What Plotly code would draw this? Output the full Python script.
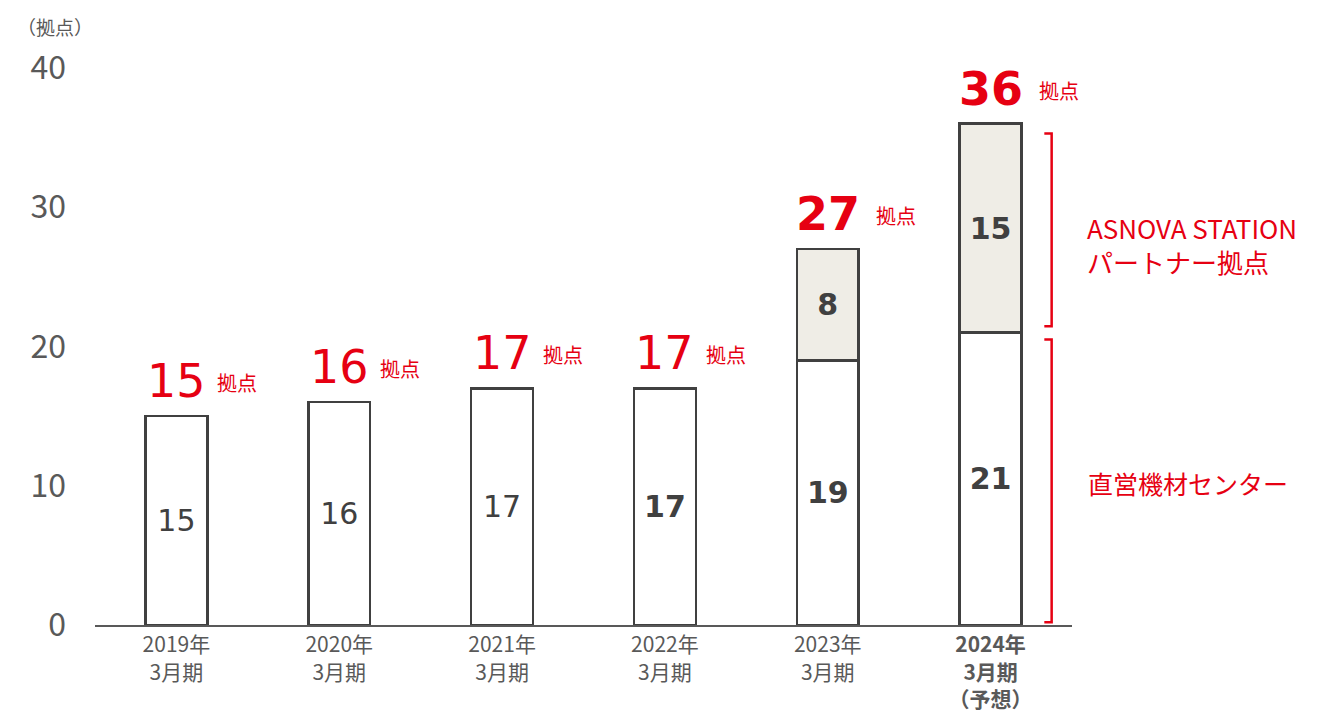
import plotly.graph_objects as go

categories = ["2019年<br>3月期", "2020年<br>3月期", "2021年<br>3月期", "2022年<br>3月期",
              "2023年<br>3月期", "<b>2024年<br>3月期<br>（予想）</b>"]
direct = [15, 16, 17, 17, 19, 21]
partner = [0, 0, 0, 0, 8, 15]
direct_bold = [False, False, False, True, True, True]
total_bold = [False, False, False, False, True, True]
label_direct = "直営機材センター"
label_partner = ["ASNOVA STATION", "パートナー拠点"]
unit = "拠点"
y_ticks = [0, 10, 20, 30, 40]

RED = "#E60012"
GRAY = "#595959"
DARK = "#404040"
NUM_FONT = "DejaVu Sans"
JP_FONT = "Noto Sans CJK JP"

xs = list(range(len(categories)))
totals = [a + b for a, b in zip(direct, partner)]

def fmt(v, b):
    return f"<b>{v}</b>" if b else str(v)

fig = go.Figure()
fig.add_bar(
    x=xs, y=direct, width=0.38,
    marker=dict(color="white", line=dict(color=DARK, width=2.5)),
    text=[fmt(v, b) for v, b in zip(direct, direct_bold)],
    textposition="inside", insidetextanchor="middle", textangle=0,
    textfont=dict(family=NUM_FONT, size=30, color=DARK),
    hoverinfo="skip",
)
fig.add_bar(
    x=xs, y=[v if v else None for v in partner], width=0.38,
    marker=dict(color="#EFEDE6", line=dict(color=DARK, width=2.5)),
    text=[fmt(v, True) if v else "" for v in partner],
    textposition="inside", insidetextanchor="middle", textangle=0,
    textfont=dict(family=NUM_FONT, size=30, color=DARK),
    hoverinfo="skip",
)

annotations = []
for x, t, b in zip(xs, totals, total_bold):
    annotations.append(dict(
        x=x, y=t, xref="x", yref="y", text=fmt(t, b), showarrow=False,
        xanchor="center", yanchor="bottom", yshift=6,
        font=dict(family=NUM_FONT, size=46, color=RED),
    ))
    annotations.append(dict(
        x=x, y=t, xref="x", yref="y", text=unit, showarrow=False,
        xanchor="left", yanchor="bottom", xshift=(46 if b else 39), yshift=17,
        font=dict(family=JP_FONT, size=20, color=RED),
    ))

# labels on the right
last = len(xs) - 1
mid_p = (direct[last] + totals[last]) / 2
for i, line in enumerate(label_partner):
    annotations.append(dict(
        x=1.0, xref="paper", xshift=14, y=mid_p, yref="y", yshift=1 - 34 * i,
        text=line, showarrow=False, xanchor="left", yanchor="middle", align="left",
        borderpad=0,
        font=dict(family=JP_FONT, size=26, color=RED),
    ))
annotations.append(dict(
    x=1.0, xref="paper", xshift=14, y=direct[last] / 2, yref="y", yshift=-4,
    text=label_direct, showarrow=False, xanchor="left", yanchor="middle", align="left",
    font=dict(family=JP_FONT, size=25, color=RED),
))
annotations.append(dict(
    x=0, xref="paper", xshift=-80, y=1.0, yref="paper", yshift=42, text="（拠点）",
    showarrow=False, xanchor="left", yanchor="middle",
    font=dict(family=JP_FONT, size=19, color=GRAY),
))

# brackets
bx = last + 0.375
bt = 0.045
shapes = []
for y0, y1 in [(direct[last] + 0.45, totals[last] - 0.7), (0.2, direct[last] - 0.5)]:
    shapes.append(dict(
        type="path", xref="x", yref="y",
        path=f"M {bx - bt} {y1} L {bx} {y1} L {bx} {y0} L {bx - bt} {y0}",
        line=dict(color=RED, width=2.5),
    ))

fig.update_layout(
    barmode="stack",
    width=1318, height=717,
    margin=dict(l=87, r=254, t=60, b=100),
    paper_bgcolor="white", plot_bgcolor="white",
    showlegend=False,
    annotations=annotations,
    shapes=shapes,
    xaxis=dict(
        range=[-0.5, 5.5], tickvals=xs, ticktext=categories,
        showline=True, linecolor=GRAY, linewidth=2, ticks="",
        showgrid=False, zeroline=False, automargin=False,
        tickfont=dict(family=JP_FONT, size=21, color=GRAY),
    ),
    yaxis=dict(
        range=[0, 40], tickvals=y_ticks, showgrid=False, zeroline=False,
        showline=False, ticks="", ticklabelstandoff=28, automargin=False,
        tickfont=dict(family=JP_FONT, size=32, color=GRAY),
    ),
)
fig.update_traces(cliponaxis=False)

fig.write_html("out.html")
